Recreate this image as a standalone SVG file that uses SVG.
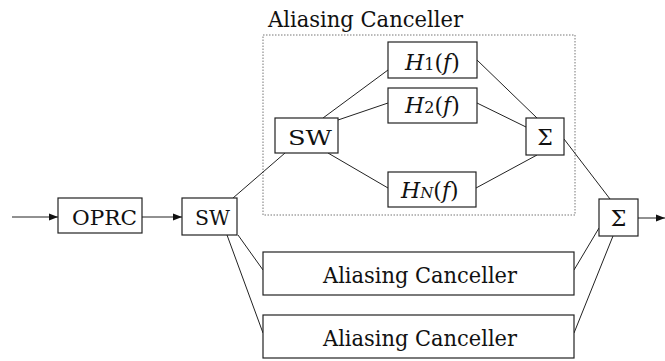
<svg xmlns="http://www.w3.org/2000/svg" width="665" height="361" viewBox="0 0 665 361">
<style>
.box{fill:#fff;stroke:#222;stroke-width:1.2}
.ln{stroke:#222;stroke-width:1;fill:none}
text{font-family:'DejaVu Serif','Liberation Serif',serif;fill:#111}
.it{font-style:italic}
</style>
<defs>
<marker id="ah" viewBox="0 0 10 10" refX="10" refY="5" markerWidth="9" markerHeight="9" markerUnits="userSpaceOnUse" orient="auto">
<path d="M0,1 L10,5 L0,9 Z" fill="#111"/>
</marker>
</defs>
<rect width="665" height="361" fill="#fff"/>
<g id="canceller-frame">
<rect x="263" y="35" width="312" height="180" fill="none" stroke="#777" stroke-width="1" stroke-dasharray="1.5,1.5"/>
<text x="268" y="27" font-size="22" textLength="195" lengthAdjust="spacingAndGlyphs">Aliasing Canceller</text>
</g>
<g id="connectors">
<line class="ln" x1="12" y1="217" x2="58" y2="217" marker-end="url(#ah)"/>
<line class="ln" x1="142" y1="217" x2="182" y2="217" marker-end="url(#ah)"/>
<line class="ln" x1="233" y1="198" x2="285" y2="153"/>
<line class="ln" x1="238" y1="235" x2="263" y2="270"/>
<line class="ln" x1="227" y1="235" x2="263" y2="333"/>
<line class="ln" x1="323" y1="118" x2="388" y2="70"/>
<line class="ln" x1="338" y1="120" x2="388" y2="103"/>
<line class="ln" x1="328" y1="153" x2="388" y2="188"/>
<line class="ln" x1="477" y1="60" x2="537" y2="118"/>
<line class="ln" x1="477" y1="103" x2="526" y2="127"/>
<line class="ln" x1="476" y1="188" x2="537" y2="155"/>
<line class="ln" x1="564" y1="139" x2="610" y2="199"/>
<line class="ln" x1="574" y1="270" x2="599" y2="228"/>
<line class="ln" x1="574" y1="333" x2="613" y2="236"/>
<line class="ln" x1="638" y1="218" x2="665" y2="218" marker-end="url(#ah)"/>
</g>
<g id="oprc">
<rect class="box" x="58" y="198" width="84" height="35"/>
<text x="72" y="225" font-size="21" textLength="65" lengthAdjust="spacingAndGlyphs">OPRC</text>
</g>
<g id="sw1">
<rect class="box" x="182" y="198" width="55" height="37"/>
<text x="195" y="225" font-size="21" textLength="35" lengthAdjust="spacingAndGlyphs">SW</text>
</g>
<g id="sw2">
<rect class="box" x="275" y="118" width="63" height="35"/>
<text x="288" y="145" font-size="21" textLength="44" lengthAdjust="spacingAndGlyphs">SW</text>
</g>
<g id="h1">
<rect class="box" x="388" y="42" width="89" height="36"/>
<text x="405" y="70" font-size="22"><tspan class="it">H</tspan><tspan font-size="16">1</tspan>(<tspan class="it">f</tspan>)</text>
</g>
<g id="h2">
<rect class="box" x="388" y="88" width="89" height="35"/>
<text x="405" y="113" font-size="22"><tspan class="it">H</tspan><tspan font-size="16">2</tspan>(<tspan class="it">f</tspan>)</text>
</g>
<g id="hn">
<rect class="box" x="388" y="172" width="88" height="35"/>
<text x="401" y="198" font-size="22"><tspan class="it">H</tspan><tspan class="it" font-size="15">N</tspan>(<tspan class="it">f</tspan>)</text>
</g>
<g id="sum1">
<rect class="box" x="526" y="118" width="38" height="37"/>
<text x="545" y="145" font-size="22" text-anchor="middle">Σ</text>
</g>
<g id="sum2">
<rect class="box" x="599" y="199" width="39" height="37"/>
<text x="618.5" y="226" font-size="22" text-anchor="middle">Σ</text>
</g>
<g id="ac2">
<rect class="box" x="263" y="252" width="311" height="43"/>
<text x="323" y="283" font-size="22" textLength="194" lengthAdjust="spacingAndGlyphs">Aliasing Canceller</text>
</g>
<g id="ac3">
<rect class="box" x="263" y="315" width="311" height="43"/>
<text x="323" y="346" font-size="22" textLength="194" lengthAdjust="spacingAndGlyphs">Aliasing Canceller</text>
</g>
</svg>
